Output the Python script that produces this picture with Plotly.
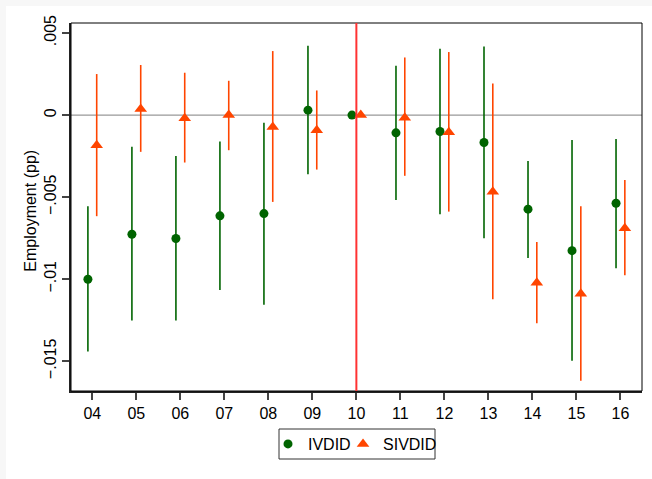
import plotly.graph_objects as go

# Event-study coefficients by year (relative to 2010) with 95% CI bounds
years = [4, 5, 6, 7, 8, 9, 10, 11, 12, 13, 14, 15, 16]
year_labels = ["04", "05", "06", "07", "08", "09", "10", "11", "12", "13", "14", "15", "16"]

ivdid_coef = [-0.0100, -0.00726, -0.00752, -0.00614, -0.0060, 0.0003, 0.0,
              -0.00108, -0.0010, -0.00167, -0.00573, -0.00826, -0.00537]
ivdid_hi = [-0.00555, -0.00193, -0.0025, -0.00161, -0.00047, 0.00423, 0.0,
            0.0030, 0.00404, 0.00418, -0.0028, -0.00152, -0.00146]
ivdid_lo = [-0.01441, -0.01252, -0.01252, -0.01065, -0.01155, -0.0036, 0.0,
            -0.00518, -0.00604, -0.0075, -0.0087, -0.01496, -0.00933]

sivdid_coef = [-0.00184, 0.00037, -0.0002, 0.0, -0.00073, -0.00093, 0.0,
               -0.00016, -0.00105, -0.00467, -0.01022, -0.01089, -0.0069]
sivdid_hi = [0.0025, 0.00305, 0.00258, 0.00209, 0.0039, 0.0015, 0.0,
             0.00351, 0.00384, 0.00193, -0.00773, -0.00555, -0.00396]
sivdid_lo = [-0.00616, -0.00224, -0.00289, -0.00214, -0.00529, -0.00332, 0.0,
             -0.0037, -0.00588, -0.01122, -0.01268, -0.01618, -0.00976]

y_ticks = [-0.015, -0.01, -0.005, 0, 0.005]
y_tick_labels = ["\u2212.015", "\u2212.01", "\u2212.005", "0", ".005"]

GREEN = "#006400"
ORANGE = "#ff4500"
FONT = "Liberation Sans, Arial, sans-serif"

shift = 0.1
x_iv = [x - shift for x in years]
x_siv = [x + shift for x in years]

fig = go.Figure()

fig.add_trace(go.Scatter(
    x=x_iv, y=ivdid_coef, mode="markers", name="IVDID", legend="legend",
    marker=dict(symbol="circle", size=9, color=GREEN),
    error_y=dict(type="data", symmetric=False,
                 array=[h - c for h, c in zip(ivdid_hi, ivdid_coef)],
                 arrayminus=[c - l for c, l in zip(ivdid_coef, ivdid_lo)],
                 color=GREEN, thickness=1.6, width=0),
))
fig.add_trace(go.Scatter(
    x=x_siv, y=sivdid_coef, mode="markers", name="SIVDID", legend="legend2",
    marker=dict(symbol="triangle-up", size=11, color=ORANGE),
    error_y=dict(type="data", symmetric=False,
                 array=[h - c for h, c in zip(sivdid_hi, sivdid_coef)],
                 arrayminus=[c - l for c, l in zip(sivdid_coef, sivdid_lo)],
                 color=ORANGE, thickness=1.6, width=0),
))

shapes = [
    # light outer band at top and left edges
    dict(type="rect", xref="paper", yref="paper", x0=-0.1243, x1=1.02,
         y0=1.0462, y1=1.07, fillcolor="#f7f7f7", line=dict(width=0), layer="below"),
    dict(type="rect", xref="paper", yref="paper", x0=-0.13, x1=-0.1138,
         y0=-0.3, y1=1.07, fillcolor="#f7f7f7", line=dict(width=0), layer="below"),
    # plot region frame
    dict(type="rect", xref="paper", yref="paper", x0=0, x1=1, y0=0, y1=1,
         line=dict(color="black", width=1), layer="above"),
    # shared frame around the two legend entries
    dict(type="rect", xref="paper", yref="paper", x0=0.3643, x1=0.6375, y0=-0.1848, y1=-0.1033,
         line=dict(color="#333333", width=1), fillcolor="white", layer="above"),
    # zero reference line
    dict(type="line", xref="paper", yref="y", x0=0, x1=1, y0=0, y1=0,
         line=dict(color="#999999", width=1.2), layer="below"),
    # reference year
    dict(type="line", xref="x", yref="paper", x0=10, x1=10, y0=0, y1=1,
         line=dict(color="#ff3333", width=2), layer="above"),
]

legend_common = dict(orientation="h", xanchor="left", yanchor="top", y=-0.0978,
                     borderwidth=0, bgcolor="rgba(0,0,0,0)",
                     font=dict(family=FONT, size=16, color="black"), itemwidth=30)

fig.update_layout(
    width=652, height=479,
    margin=dict(l=71, r=10, t=23, b=88),
    paper_bgcolor="white", plot_bgcolor="white",
    font=dict(family=FONT, size=16, color="black"),
    shapes=shapes,
    showlegend=True,
    legend=dict(x=0.3450, **legend_common),
    legend2=dict(x=0.4764, **legend_common),
    annotations=[dict(text="Employment (pp)", textangle=-90, xref="paper", yref="paper",
                      x=-0.070, y=0.49, xanchor="center", yanchor="middle", showarrow=False,
                      font=dict(family=FONT, size=16, color="black"))],
    xaxis=dict(range=[3.516, 16.49], tickmode="array", tickvals=years, ticktext=year_labels,
               showgrid=False, zeroline=False, showline=True, linecolor="#222222", linewidth=2,
               ticks="outside", ticklen=7, tickwidth=1.5, tickcolor="#444444",
               tickfont=dict(family=FONT, size=16, color="black")),
    yaxis=dict(range=[-0.01681, 0.00561], tickmode="array", tickvals=y_ticks, ticktext=y_tick_labels,
               tickangle=-90, showgrid=False, zeroline=False, showline=True,
               linecolor="#222222", linewidth=2,
               ticks="outside", ticklen=7, tickwidth=1.5, tickcolor="#444444",
               tickfont=dict(family=FONT, size=16, color="black")),
)

fig.write_html("out.html")
